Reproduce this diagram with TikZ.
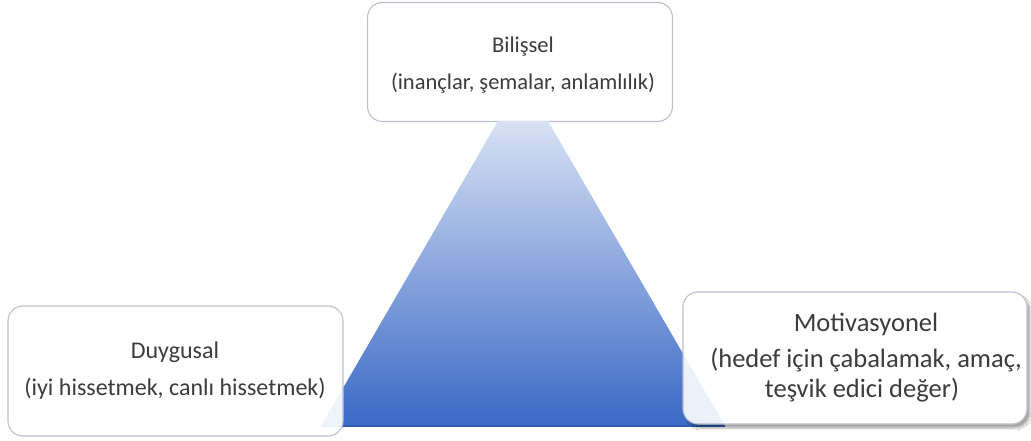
\documentclass[tikz,border=0pt]{standalone}
\usepackage{fontspec}
\setmainfont{Carlito}
\usetikzlibrary{shadows.blur}
\definecolor{txt}{HTML}{3C3C3C}
\definecolor{edge}{HTML}{BCC2CC}
\definecolor{trtop}{HTML}{EEF2FA}
\definecolor{trmid}{HTML}{A6BDE7}
\definecolor{trbot}{HTML}{3A69C6}
\definecolor{trbase}{HTML}{3360B2}
\tikzset{
  card/.style={draw=edge, line width=1.1pt, rounded corners=15pt, fill=white, inner sep=0pt},
  label/.style={text=txt, anchor=base, inner sep=0pt},
  topfont/.style={font=\fontsize{22.5}{26}\selectfont},
  leftfont/.style={font=\fontsize{24}{28}\selectfont},
  rightfont/.style={font=\fontsize{26.5}{31}\selectfont},
  pyramid/.style={top color=trtop, middle color=trmid, bottom color=trbot},
}
\begin{document}
\begin{tikzpicture}[x=1pt,y=-1pt]
\useasboundingbox (0,0) rectangle (1031,441);
\fill[white] (0,0) rectangle (1031,441);
% top card
\node[card, minimum width=305pt, minimum height=119pt] (top) at (520,62) {};
% triangle
\coordinate (apex) at (523,78);
\coordinate (bl) at (321,426);
\coordinate (br) at (725,426);
\begin{scope}
\clip (0,121.5) rectangle (1031,441);
\shade[pyramid] (apex) -- (br) -- (bl) -- cycle;
\draw[trbase, line width=1.2pt] (bl) -- (br);
\end{scope}
% left and right cards
\node[card, fill opacity=0.92, minimum width=335pt, minimum height=130pt] (left) at (175.5,371) {};
\node[card, blur shadow={shadow xshift=3pt, shadow yshift=-4pt, shadow blur steps=8, shadow opacity=35}, minimum width=344pt, minimum height=132pt] (right) at (855,358) {};
\begin{scope}
\clip[rounded corners=15pt] (right.north west) rectangle (right.south east);
\shade[pyramid, opacity=0.1] (apex) -- (br) -- (bl) -- cycle;
\end{scope}
% texts
\node[label, topfont] (toptitle) at (523,53) {Bilişsel};
\node[label, topfont] (topsub) at (523,90) {(inançlar, şemalar, anlamlılık)};
\node[label, leftfont] (lefttitle) at (175,358) {Duygusal};
\node[label, leftfont] (leftsub) at (175,395) {(iyi hissetmek, canlı hissetmek)};
\node[label, rightfont] (righttitle) at (866,331) {Motivasyonel};
\node[label, rightfont] (rightsub) at (866,367) {(hedef için çabalamak, amaç,};
\node[label, rightfont] (rightsubb) at (862,397) {teşvik edici değer)};
\end{tikzpicture}
\end{document}
